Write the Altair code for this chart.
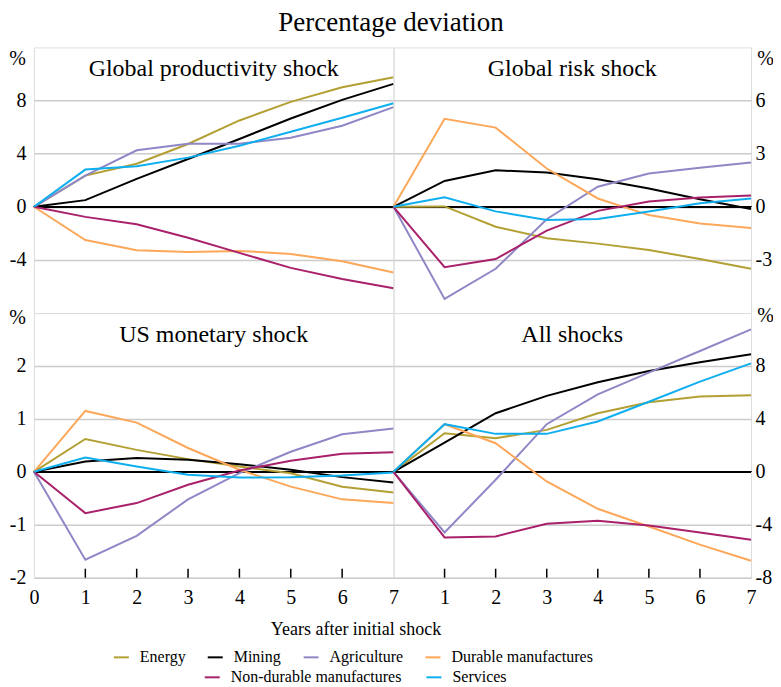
import altair as alt
import pandas as pd

FONT = "Liberation Serif, Times New Roman, serif"

years = [0, 1, 2, 3, 4, 5, 6, 7]
sectors = ["Energy", "Mining", "Agriculture", "Durable manufactures",
           "Non-durable manufactures", "Services"]
colors = ["#B3A034", "#000000", "#8F87C6", "#FDA75A", "#A8216A", "#0FAEEF"]

panel_titles = ["Global productivity shock", "Global risk shock",
                "US monetary shock", "All shocks"]

# Global productivity shock
prod_energy = [0, 2.35, 3.24, 4.73, 6.5, 7.9, 9.0, 9.75]
prod_mining = [0, 0.5, 2.1, 3.6, 5.1, 6.65, 8.05, 9.25]
prod_agri = [0, 2.35, 4.25, 4.75, 4.75, 5.2, 6.1, 7.5]
prod_durable = [0, -2.5, -3.27, -3.4, -3.32, -3.55, -4.1, -4.95]
prod_nondurable = [0, -0.76, -1.32, -2.33, -3.47, -4.6, -5.44, -6.13]
prod_services = [0, 2.8, 3.05, 3.7, 4.6, 5.65, 6.7, 7.8]

# Global risk shock
risk_energy = [0, 0.02, -1.13, -1.78, -2.08, -2.44, -2.95, -3.5]
risk_mining = [0, 1.46, 2.06, 1.93, 1.56, 1.03, 0.43, -0.13]
risk_agri = [0, -5.2, -3.5, -0.7, 1.13, 1.88, 2.2, 2.5]
risk_durable = [0, 4.97, 4.47, 2.16, 0.47, -0.47, -0.94, -1.2]
risk_nondurable = [0, -3.41, -2.95, -1.35, -0.23, 0.3, 0.53, 0.64]
risk_services = [0, 0.54, -0.26, -0.75, -0.69, -0.26, 0.2, 0.47]

# US monetary shock
mon_energy = [0, 0.62, 0.415, 0.24, 0.1, -0.025, -0.28, -0.39]
mon_mining = [0, 0.195, 0.26, 0.23, 0.145, 0.04, -0.1, -0.2]
mon_agri = [0, -1.66, -1.21, -0.52, -0.025, 0.38, 0.71, 0.82]
mon_durable = [0, 1.15, 0.93, 0.45, 0.04, -0.28, -0.52, -0.59]
mon_nondurable = [0, -0.78, -0.59, -0.245, 0.025, 0.21, 0.34, 0.37]
mon_services = [0, 0.27, 0.1, -0.057, -0.107, -0.1, -0.07, -0.013]

# All shocks
all_energy = [0, 2.92, 2.54, 3.17, 4.43, 5.26, 5.69, 5.79]
all_mining = [0, 2.21, 4.43, 5.74, 6.77, 7.62, 8.28, 8.88]
all_agri = [0, -4.58, -0.6, 3.6, 5.86, 7.5, 9.13, 10.77]
all_durable = [0, 3.6, 2.16, -0.73, -2.79, -4.13, -5.5, -6.72]
all_nondurable = [0, -4.96, -4.88, -3.92, -3.7, -4.05, -4.58, -5.13]
all_services = [0, 3.6, 2.87, 2.87, 3.8, 5.3, 6.82, 8.2]

panel_series = [
    [prod_energy, prod_mining, prod_agri, prod_durable, prod_nondurable, prod_services],
    [risk_energy, risk_mining, risk_agri, risk_durable, risk_nondurable, risk_services],
    [mon_energy, mon_mining, mon_agri, mon_durable, mon_nondurable, mon_services],
    [all_energy, all_mining, all_agri, all_durable, all_nondurable, all_services],
]

y_domains = [[-8, 12], [-6, 9], [-2, 3], [-8, 12]]
y_ticks = [[-4, 0, 4, 8], [-3, 0, 3, 6], [-2, -1, 0, 1, 2], [-8, -4, 0, 4, 8]]
x_labels = [None, None, [0, 1, 2, 3, 4, 5, 6, 7], [1, 2, 3, 4, 5, 6, 7]]
tick_years = [1, 2, 3, 4, 5, 6]


def make_df(vals):
    rows = []
    for s, arr in zip(sectors, vals):
        for yr, v in zip(years, arr):
            rows.append({"year": yr, "value": v, "sector": s})
    return pd.DataFrame(rows)


def legend(x, y, cols, pad):
    return alt.Legend(title=None, orient="none", legendX=x, legendY=y,
                      direction="horizontal", columns=cols,
                      symbolType="stroke", symbolSize=225,
                      symbolStrokeWidth=2, labelFontSize=16,
                      labelFont=FONT, labelColor="black", labelLimit=400,
                      labelOffset=10, columnPadding=pad)


def panel(i, w, h, side, pct_y):
    df = make_df(panel_series[i])
    pct_x = -17 if side == "left" else 14
    yaxis = alt.Axis(values=y_ticks[i], orient=side, grid=True, gridColor="#cccccc",
                     gridWidth=1.5, domain=False, ticks=False,
                     labelPadding=8 if side == "left" else 4,
                     labelFontSize=20, labelExpr="'' + datum.value",
                     title="%", titleAngle=0, titleX=pct_x, titleY=pct_y,
                     titleAlign="center", titleBaseline="middle",
                     titleFontWeight="normal", titleFontSize=20,
                     titleFont=FONT, labelFont=FONT, labelColor="black",
                     titleColor="black")
    if x_labels[i] is not None:
        if i == 2:
            xaxis = alt.Axis(values=x_labels[i], grid=False, domain=False, ticks=False,
                             labelPadding=10, labelAngle=0, labelFontSize=20,
                             labelFont=FONT, labelColor="black", labelFlush=False,
                             title="Years after initial shock", titleX=322, titleY=52,
                             titleAlign="center", titleBaseline="middle",
                             titleFontSize=18, titleFontWeight="normal",
                             titleFont=FONT, titleColor="black")
        else:
            xaxis = alt.Axis(values=x_labels[i], grid=False, domain=False, ticks=False,
                             labelPadding=10, labelAngle=0, labelFontSize=20,
                             labelFont=FONT, labelColor="black", labelFlush=False,
                             title=None)
    else:
        xaxis = None
    x = alt.X("year:Q", scale=alt.Scale(domain=[0, 7], nice=False), axis=xaxis)
    y = alt.Y("value:Q", scale=alt.Scale(domain=y_domains[i], nice=False, zero=False),
              axis=yaxis)
    base = alt.Chart(df)
    zero = base.mark_rule(color="black", strokeWidth=1.5).encode(y=alt.Y(datum=0))
    lines1 = base.transform_filter(
        alt.FieldOneOfPredicate(field="sector", oneOf=sectors[:4])
    ).mark_line(strokeWidth=2).encode(
        x=x, y=y,
        color=alt.Color("sector:N", sort=sectors[:4],
                        scale=alt.Scale(domain=sectors[:4], range=colors[:4]),
                        legend=legend(79, 602, 4, 18)),
    )
    lines2 = base.transform_filter(
        alt.FieldOneOfPredicate(field="sector", oneOf=sectors[4:])
    ).mark_line(strokeWidth=2).encode(
        x=x, y=y,
        stroke=alt.Stroke("sector:N", sort=sectors[4:],
                          scale=alt.Scale(domain=sectors[4:], range=colors[4:]),
                          legend=legend(170, 622, 2, 20)),
    )
    title = alt.Chart(pd.DataFrame({"t": [panel_titles[i]]})).mark_text(
        font=FONT, fontSize=24, baseline="alphabetic", align="center", color="black"
    ).encode(x=alt.value(w / 2), y=alt.value(29), text="t:N")
    layers = [zero, lines1, lines2, title]
    if x_labels[i] is not None:
        tks = alt.Chart(pd.DataFrame({"year": tick_years})).mark_rule(
            color="black", strokeWidth=1.5
        ).encode(x=x, y=alt.value(h - 9), y2=alt.value(h))
        layers.append(tks)
    return alt.layer(*layers).properties(width=w, height=h)


tl = panel(0, 360, 266, "left", 11)
tr = panel(1, 358, 266, "right", 11)
bl = panel(2, 360, 265, "left", 4)
br = panel(3, 358, 265, "right", 2)

chart = alt.concat(tl, tr, bl, br, columns=2, spacing=0, bounds="flush").resolve_scale(
    color="shared", stroke="shared"
).properties(
    title=alt.TitleParams("Percentage deviation", fontSize=27, fontWeight="normal",
                          anchor="middle", font=FONT, color="black", offset=10),
    padding={"left": 0, "top": 0, "right": -1, "bottom": 0},
).configure_view(stroke="black", strokeWidth=1.5).configure_axis(
    labelFont=FONT, titleFont=FONT
).configure_legend(labelFont=FONT).configure_text(font=FONT).configure(font=FONT)

chart.save("out.html", embed_options={"renderer": "svg", "actions": False})
